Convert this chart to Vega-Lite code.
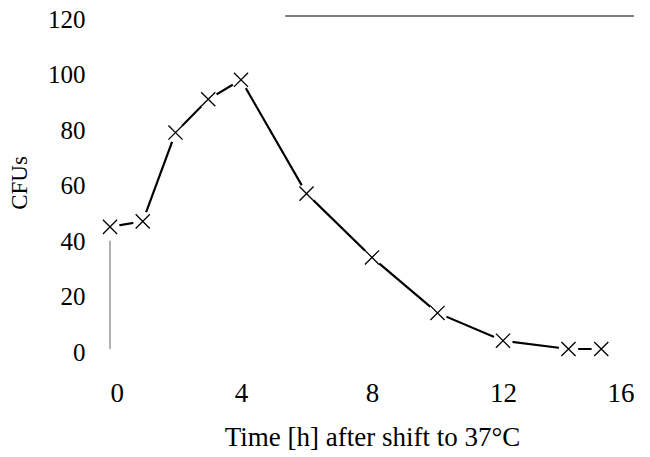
{
  "$schema": "https://vega.github.io/schema/vega-lite/v6.json",
  "autosize": {"type": "none"},
  "padding": {"left": 110, "top": 16, "right": 16, "bottom": 108},
  "width": 524,
  "height": 333,
  "background": "white",
  "config": {
    "view": {"stroke": null},
    "font": "Liberation Serif",
    "axis": {"labelFont": "Liberation Serif", "titleFont": "Liberation Serif", "labelColor": "#000", "titleColor": "#000", "titleFontWeight": "normal", "grid": false, "domain": false, "ticks": false}
  },
  "datasets": {
    "cfu": [
      {"time": 0, "cfu": 44},
      {"time": 1, "cfu": 46},
      {"time": 2, "cfu": 78},
      {"time": 3, "cfu": 90},
      {"time": 4, "cfu": 97},
      {"time": 6, "cfu": 56},
      {"time": 8, "cfu": 33},
      {"time": 10, "cfu": 13},
      {"time": 12, "cfu": 3},
      {"time": 14, "cfu": 0},
      {"time": 15, "cfu": 0}
    ],
    "hline": [{"x1": 5.35, "x2": 16, "y": 120}],
    "vline": [{"x": 0, "y1": 0, "y2": 39}]
  },
  "layer": [
    {
      "data": {"name": "hline"},
      "mark": {"type": "rule", "color": "#555", "strokeWidth": 1.5},
      "encoding": {
        "x": {"field": "x1", "type": "quantitative", "title": "Time [h] after shift to 37°C", "scale": {"domain": [0, 16]}, "axis": {"values": [0, 4, 8, 12, 16], "labelFontSize": 27, "titleFontSize": 27, "labelPadding": 31, "titlePadding": 18}},
        "x2": {"field": "x2"},
        "y": {"field": "y", "type": "quantitative", "title": "CFUs", "scale": {"domain": [0, 120]}, "axis": {"values": [0, 20, 40, 60, 80, 100, 120], "labelFontSize": 25, "titleFontSize": 23, "labelPadding": 25, "labelOffset": 3, "titlePadding": 16}}
      }
    },
    {
      "data": {"name": "vline"},
      "mark": {"type": "rule", "color": "#999", "strokeWidth": 1.5},
      "encoding": {
        "x": {"field": "x", "type": "quantitative"},
        "y": {"field": "y1", "type": "quantitative"},
        "y2": {"field": "y2"}
      }
    },
    {
      "data": {"name": "cfu"},
      "mark": {"type": "line", "color": "#000", "strokeWidth": 2.2},
      "encoding": {
        "x": {"field": "time", "type": "quantitative"},
        "y": {"field": "cfu", "type": "quantitative"}
      }
    },
    {
      "data": {"name": "cfu"},
      "mark": {"type": "point", "shape": "circle", "filled": true, "fill": "#ffffff", "fillOpacity": 1, "strokeWidth": 0, "opacity": 1, "size": 380},
      "encoding": {
        "x": {"field": "time", "type": "quantitative"},
        "y": {"field": "cfu", "type": "quantitative"}
      }
    },
    {
      "data": {"name": "cfu"},
      "mark": {"type": "point", "shape": "M-1,-1L1,1M1,-1L-1,1", "filled": false, "stroke": "#000", "strokeWidth": 1.3, "opacity": 1, "size": 200},
      "encoding": {
        "x": {"field": "time", "type": "quantitative"},
        "y": {"field": "cfu", "type": "quantitative"}
      }
    }
  ]
}
